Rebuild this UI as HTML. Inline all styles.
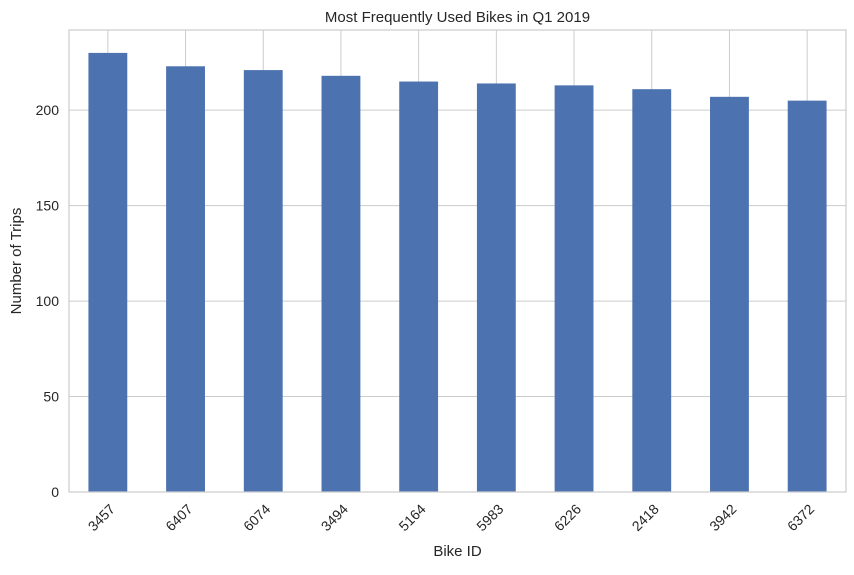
<!DOCTYPE html>
<html><head><meta charset="utf-8"><style>
body{margin:0;background:#fff;}
svg text{font-family:"Liberation Sans","DejaVu Sans",sans-serif;fill:#262626;}
</style></head><body>
<svg id="chart" width="854" height="570" xmlns="http://www.w3.org/2000/svg"></svg>
<script>
const categories=["3457","6407","6074","3494","5164","5983","6226","2418","3942","6372"];
const trips=[230,223,221,218,215,214,213,211,207,205];
const yTicks=[0,50,100,150,200];
const L=69,R=846,T=30,B=492,YMAX=242;
const svg=document.getElementById('chart');
const NS='http://www.w3.org/2000/svg';
const step=(R-L)/categories.length;
const x=i=>L+step*(i+0.5);
const y=v=>B-(v/YMAX)*(B-T);
function mk(tag,attrs,txt){const e=document.createElementNS(NS,tag);for(const k in attrs)e.setAttribute(k,attrs[k]);if(txt!==undefined)e.textContent=txt;svg.appendChild(e);return e;}
yTicks.forEach(t=>{
 const g=mk('line',{x1:L,x2:R,y1:y(t),y2:y(t),stroke:'#cccccc','stroke-width':1});
 
 
 const lb=mk('text',{x:L-10,y:y(t)+5,'text-anchor':'end','font-size':14},t);
 
 
});
categories.forEach((c,i)=>{
 const g=mk('line',{x1:x(i),x2:x(i),y1:T,y2:B,stroke:'#cccccc','stroke-width':1});
 
 
});
categories.forEach((c,i)=>{
 const w=step*0.5;
 const r=mk('rect',{x:x(i)-w/2,y:y(trips[i]),width:w,height:B-y(trips[i]),fill:'#4c72b0'});
 
 
 const lb=mk('text',{x:0,y:0,'text-anchor':'end','font-size':14,transform:`translate(${x(i)+8},${B+18}) rotate(-45)`},c);
 
 
});
const f=mk('rect',{x:L,y:T,width:R-L,height:B-T,fill:'none',stroke:'#cccccc','stroke-width':1.2});


const t1=mk('text',{x:(L+R)/2,y:22,'text-anchor':'middle','font-size':15},'Most Frequently Used Bikes in Q1 2019');


const t2=mk('text',{x:(L+R)/2,y:556,'text-anchor':'middle','font-size':15},'Bike ID');


const t3=mk('text',{x:0,y:0,'text-anchor':'middle','font-size':15,transform:`translate(21,${(T+B)/2}) rotate(-90)`},'Number of Trips');


</script>
</body></html>
